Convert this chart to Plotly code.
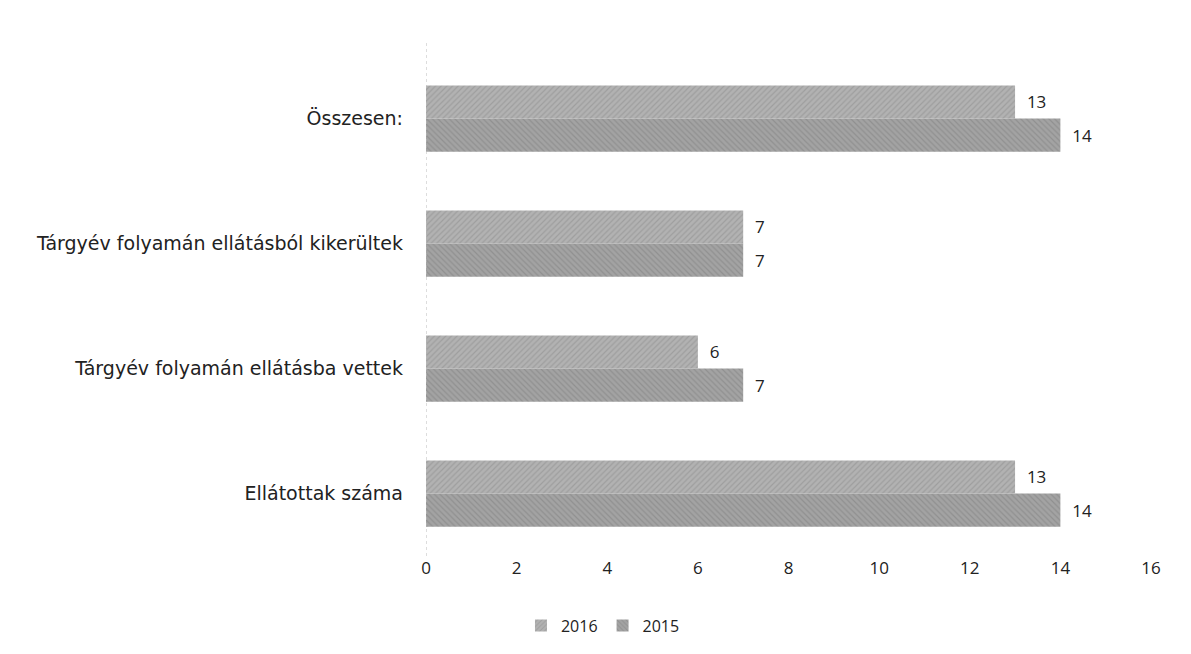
import plotly.graph_objects as go

categories = ["Ellátottak száma", "Tárgyév folyamán ellátásba vettek",
              "Tárgyév folyamán ellátásból kikerültek", "Összesen:"]
values_2016 = [13, 6, 7, 13]
values_2015 = [14, 7, 7, 14]
tick_vals = [0, 2, 4, 6, 8, 10, 12, 14, 16]

font_family = "Open Sans, Liberation Sans, Arial, sans-serif"
cat_font = "DejaVu Sans, Open Sans, sans-serif"

fig = go.Figure()
fig.add_trace(go.Bar(
    y=categories, x=values_2015, name="2015", orientation="h",
    marker=dict(color="#9a9a9a", line=dict(width=0),
                pattern=dict(shape="\\", size=4, solidity=0.3, fgcolor="#7e7e7e", bgcolor="#a3a3a3")),
    text=values_2015, texttemplate="  %{x}", textposition="outside", cliponaxis=False,
    textfont=dict(size=17, color="#222222"),
))
fig.add_trace(go.Bar(
    y=categories, x=values_2016, name="2016", orientation="h",
    marker=dict(color="#aaaaaa", line=dict(width=0),
                pattern=dict(shape="/", size=4, solidity=0.3, fgcolor="#8a8a8a", bgcolor="#b2b2b2")),
    text=values_2016, texttemplate="  %{x}", textposition="outside", cliponaxis=False,
    textfont=dict(size=17, color="#222222"),
))

fig.add_shape(type="line", xref="x", yref="paper", x0=0, x1=0, y0=0, y1=1.03,
              line=dict(color="#bbbbbb", width=1, dash="dot"))

fig.update_layout(
    width=1191, height=654,
    margin=dict(l=418, r=48, t=48, b=106, autoexpand=False),
    paper_bgcolor="white", plot_bgcolor="white",
    barmode="group", bargap=0.47, bargroupgap=0,
    font=dict(family=font_family, size=17, color="#222222"),
    showlegend=True,
    legend=dict(orientation="h", x=0.131, xanchor="left", y=-0.105, yanchor="top",
                traceorder="reversed", font=dict(size=16),
                itemwidth=30),
)
fig.update_xaxes(range=[0, 16], tickvals=tick_vals, showgrid=False, zeroline=False,
                 showline=False, ticks="", tickfont=dict(size=17), ticklabelstandoff=0,
                 automargin=False)
fig.update_yaxes(showgrid=False, zeroline=False, showline=False,
                 ticks="", tickfont=dict(size=19, family=cat_font), ticklabelstandoff=22,
                 automargin=False)

fig.write_html("out.html")
